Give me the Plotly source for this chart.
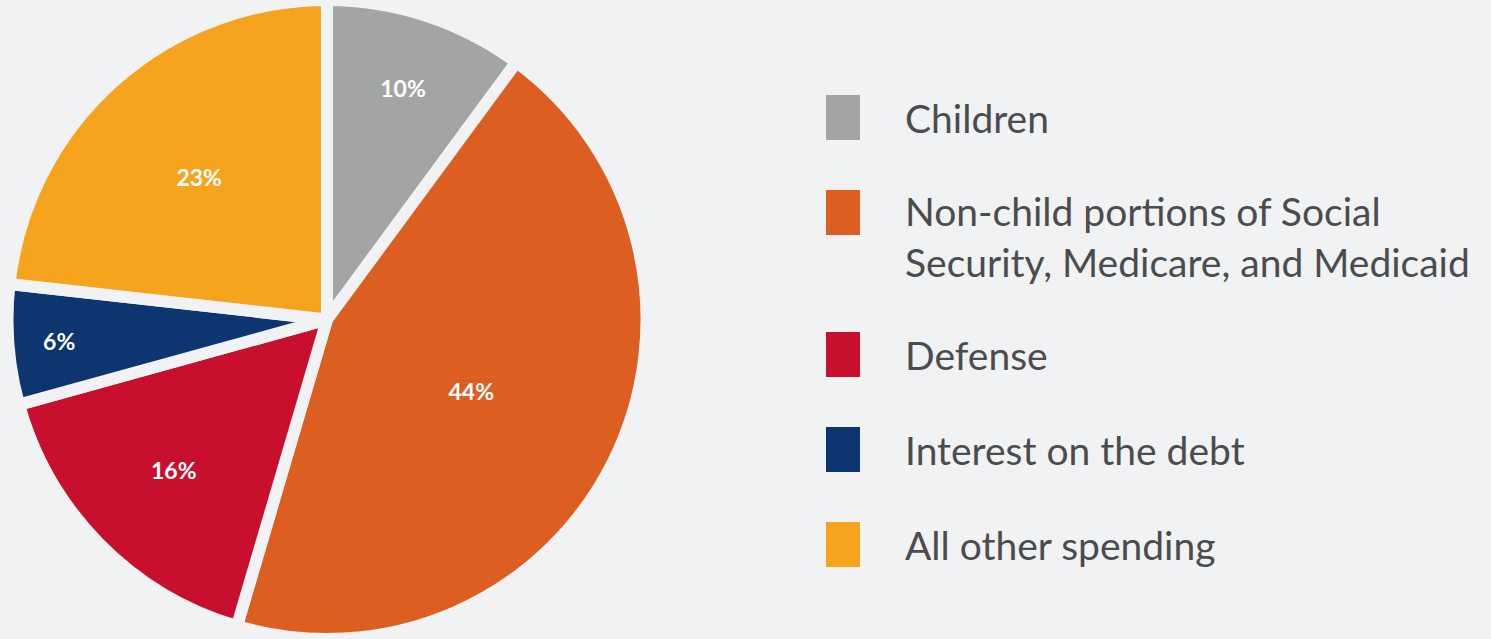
import plotly.graph_objects as go

categories = ["Children",
              "Non-child portions of Social<br>Security, Medicare, and Medicaid",
              "Defense",
              "Interest on the debt",
              "All other spending"]
values = [10, 44, 16, 6, 23]
pct_labels = ["10%", "44%", "16%", "6%", "23%"]
colors = ["#a2a5a4", "#dc5f21", "#c8102e", "#0d3570", "#f6a31e"]

W, H = 1491, 639
BG = "#f1f2f3"

fig = go.Figure()
fig.add_trace(go.Pie(
    values=values,
    labels=[c.replace("<br>", " ") for c in categories],
    text=pct_labels,
    textinfo="text",
    textposition="inside",
    insidetextorientation="horizontal",
    sort=False,
    direction="clockwise",
    rotation=0,
    marker=dict(colors=colors, line=dict(color=BG, width=12)),
    textfont=dict(family="Lato", size=23, color="white", weight="bold"),
    domain=dict(x=[2 / W, 652 / W], y=[0, 1]),
    showlegend=False,
    hoverinfo="label+text",
))

# custom legend (large rectangular swatches)
sw_x0, sw_x1 = 826, 860
sw_h = 45
text_x = 903
fs = 39
line_gap = 47
y_center = 117.5
shapes, annos = [], []
for cat, col in zip(categories, colors):
    nlines = cat.count("<br>") + 1
    shapes.append(dict(type="rect", xref="paper", yref="paper",
                       x0=sw_x0 / W, x1=sw_x1 / W,
                       y0=1 - (y_center + sw_h / 2) / H,
                       y1=1 - (y_center - sw_h / 2) / H,
                       fillcolor=col, line=dict(width=0)))
    tc = y_center + (nlines - 1) * line_gap / 2
    annos.append(dict(xref="paper", yref="paper", x=text_x / W, y=1 - tc / H,
                      xanchor="left", yanchor="middle", align="left",
                      text=cat, showarrow=False,
                      font=dict(family="Lato", size=fs, color="#4b4c4e")))
    y_center += 95 + (nlines - 1) * line_gap

fig.update_layout(
    width=W, height=H,
    margin=dict(l=0, r=0, t=0, b=0),
    paper_bgcolor=BG, plot_bgcolor=BG,
    shapes=shapes, annotations=annos,
)
fig.write_html("out.html",
               config={"displayModeBar": False},
               post_script="document.body.style.margin='0';"
                           "document.body.style.background='" + BG + "';")
